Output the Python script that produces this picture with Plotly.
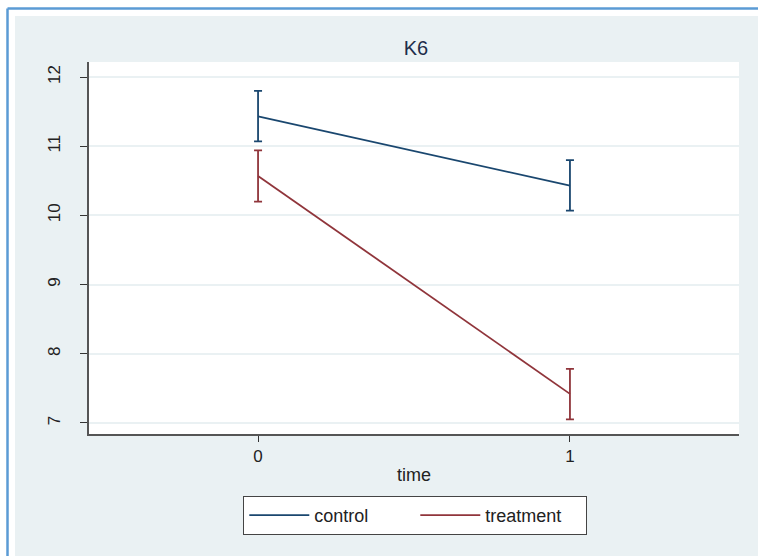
import plotly.graph_objects as go

time = [0, 1]
control_mean = [11.43, 10.43]
control_lo = [11.07, 10.07]
control_hi = [11.80, 10.80]
treat_mean = [10.57, 7.42]
treat_lo = [10.20, 7.05]
treat_hi = [10.94, 7.78]

W, H = 758, 556
L, R, T, B = 89, 739, 62, 434
pw, ph = R - L, B - T

def px(x):
    return (x - L) / pw

def py(y):
    return (B - y) / ph

fig = go.Figure()

def add_series(name, mean, lo, hi, color):
    fig.add_trace(go.Scatter(
        x=time, y=mean, mode="lines", name=name,
        line=dict(color=color, width=1.8),
        error_y=dict(type="data", symmetric=False,
                     array=[h - m for h, m in zip(hi, mean)],
                     arrayminus=[m - l for m, l in zip(mean, lo)],
                     color=color, thickness=1.8, width=4),
    ))

add_series("control", control_mean, control_lo, control_hi, "#1a476f")
add_series("treatment", treat_mean, treat_lo, treat_hi, "#90353b")

shapes = [
    dict(type="rect", xref="paper", yref="paper", x0=px(15), x1=px(W + 5), y0=py(16), y1=py(H + 5),
         fillcolor="#eaf1f3", line=dict(width=0), layer="below"),
    dict(type="rect", xref="paper", yref="paper", x0=0, x1=1, y0=0, y1=1,
         fillcolor="white", line=dict(width=0), layer="below"),
    dict(type="line", xref="paper", yref="paper", x0=px(7.5), x1=px(7.5), y0=py(8.5), y1=py(H + 5),
         line=dict(color="#5b9bd5", width=2.5)),
    dict(type="line", xref="paper", yref="paper", x0=px(7.5), x1=px(W + 5), y0=py(8.5), y1=py(8.5),
         line=dict(color="#5b9bd5", width=2.5)),
]

fig.update_layout(
    width=W, height=H,
    margin=dict(l=L, r=W - R, t=T, b=H - B, pad=0),
    paper_bgcolor="white", plot_bgcolor="white",
    font=dict(family="Liberation Sans, Arial, sans-serif", size=17, color="#222"),
    title=dict(text="K6", x=416 / W, xanchor="center", y=1 - 48 / H, yanchor="middle",
               font=dict(size=20, color="#1e2d4a")),
    shapes=shapes,
    showlegend=True,
    legend=dict(orientation="h", x=0.502, xanchor="center", y=py(496), yanchor="top",
                bgcolor="white", bordercolor="#444", borderwidth=1,
                font=dict(size=18, color="#222"), entrywidth=96,
                itemwidth=60),
    xaxis=dict(range=[-0.542, 1.542], tickvals=[0, 1], ticktext=["0", "1"],
               showgrid=False, zeroline=False, showline=True, linecolor="#555", linewidth=1.5,
               ticks="outside", ticklen=6, tickcolor="#333",
               title=dict(text="time", standoff=3, font=dict(size=18)), tickfont=dict(size=17)),
    yaxis=dict(range=[6.84, 12.217], tickvals=[7, 8, 9, 10, 11, 12],
               showgrid=True, gridcolor="#eaf1f3", gridwidth=1.5, zeroline=False,
               showline=True, linecolor="#555", linewidth=1.5,
               ticks="outside", ticklen=7, tickcolor="#333", tickangle=-90,
               ticklabelstandoff=13, tickfont=dict(size=17)),
)

fig.write_html("out.html")
